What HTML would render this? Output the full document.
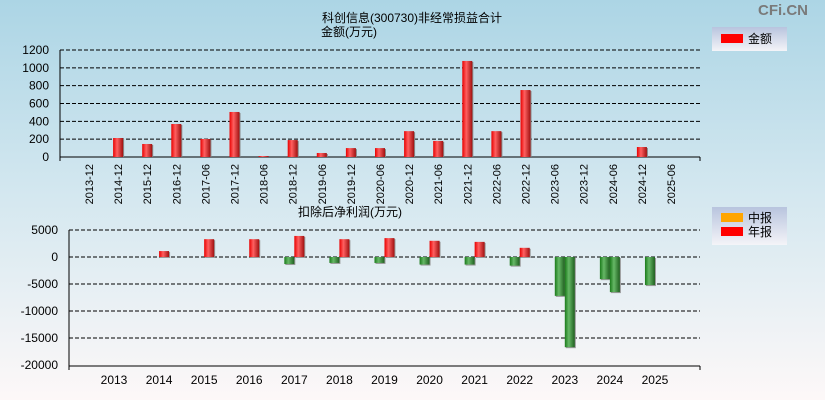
<!DOCTYPE html>
<html><head><meta charset="utf-8"><style>
html,body{margin:0;padding:0;width:825px;height:400px;overflow:hidden}
svg{display:block;font-family:"Liberation Sans","Noto Sans CJK SC",sans-serif}
</style></head><body>
<svg id="c" width="825" height="400" xmlns="http://www.w3.org/2000/svg">
<defs>
<linearGradient id="bg" x1="0" y1="0" x2="0" y2="1"><stop offset="0" stop-color="#acd5e5"/><stop offset="0.5" stop-color="#d5e8f0"/><stop offset="1" stop-color="#fdf8f8"/></linearGradient>
<linearGradient id="red" x1="0" y1="0" x2="1" y2="0"><stop offset="0" stop-color="#e80000"/><stop offset="0.4" stop-color="#ff6060"/><stop offset="1" stop-color="#a01010"/></linearGradient>
<linearGradient id="grn" x1="0" y1="0" x2="1" y2="0"><stop offset="0" stop-color="#1a7a1a"/><stop offset="0.4" stop-color="#66b866"/><stop offset="1" stop-color="#1f5f1f"/></linearGradient>
<linearGradient id="leg" x1="0" y1="0" x2="0" y2="1"><stop offset="0" stop-color="#b8c4de"/><stop offset="1" stop-color="#f4f4f8"/></linearGradient>
</defs>
<rect width="825" height="400" fill="url(#bg)"/>
<text x="808" y="15" font-size="15" font-weight="bold" fill="#7a7a7a" text-anchor="end">CFi.CN</text>
<text x="412" y="22" font-size="12" text-anchor="middle">科创信息(300730)非经常损益合计</text>
<text x="349" y="36" font-size="12" text-anchor="middle">金额(万元)</text>
<text x="350" y="216" font-size="12" text-anchor="middle">扣除后净利润(万元)</text>
<g>
<rect x="712" y="27" width="75" height="24" fill="url(#leg)"/>
<rect x="721" y="34" width="22" height="9" fill="#f00"/>
<text x="748" y="43" font-size="12">金额</text>
</g>
<g>
<rect x="712" y="207" width="75" height="38" fill="url(#leg)"/>
<rect x="721" y="213" width="22" height="9" fill="#ffa500"/>
<text x="748" y="222" font-size="12">中报</text>
<rect x="721" y="227" width="22" height="9" fill="#f00"/>
<text x="748" y="236" font-size="12">年报</text>
</g>
<g id="top"></g><g id="bot"></g>
</svg>
<script>
const topCats=["2013-12","2014-12","2015-12","2016-12","2017-06","2017-12","2018-06","2018-12","2019-06","2019-12","2020-06","2020-12","2021-06","2021-12","2022-06","2022-12","2023-06","2023-12","2024-06","2024-12","2025-06"];
const topVals=[0,213,146,370,202,505,11,190,45,100,100,290,180,1077,290,751,0,0,0,112,0];
const topTicks=[0,200,400,600,800,1000,1200];
const years=["2013","2014","2015","2016","2017","2018","2019","2020","2021","2022","2023","2024","2025"];
const midVals=[null,null,null,null,-1300,-1100,-1100,-1400,-1400,-1600,-7200,-4100,-5200];
const annVals=[null,1100,3300,3300,3900,3300,3500,3000,2800,1700,-16700,-6500,null];
const botTicks=[5000,0,-5000,-10000,-15000,-20000];
const NS="http://www.w3.org/2000/svg";
function mk(p,t,a){const e=document.createElementNS(NS,t);for(const k in a)e.setAttribute(k,a[k]);p.appendChild(e);return e;}
const T=document.getElementById('top');
const ty=v=>157-v*(107/1200), tx=i=>89+i*29.1;
topTicks.forEach(v=>{
 const g=mk(T,'line',{x1:60,x2:700,y1:ty(v),y2:ty(v),stroke:'#000','stroke-dasharray':v===0?'':'4,2'});
 
 
 const t=mk(T,'text',{x:49,y:ty(v)+4,'font-size':12,'text-anchor':'end'});t.textContent=v;
 
 
});
mk(T,'line',{x1:60,x2:60,y1:50,y2:161,stroke:'#000'});
mk(T,'line',{x1:700,x2:700,y1:157,y2:161,stroke:'#000'});
topCats.forEach((c,i)=>{
 const x=tx(i),v=topVals[i];
 if(v>0){
 mk(T,'rect',{x:x-4,y:ty(v)+1,width:10,height:ty(0)-ty(v)-1,fill:'#888'});
 const b=mk(T,'rect',{x:x-5,y:ty(v),width:10,height:ty(0)-ty(v),fill:'url(#red)'});
 
 }
 const t=mk(T,'text',{x:0,y:0,'font-size':11,'text-anchor':'end',transform:`translate(${x+4},164) rotate(-90)`});t.textContent=c;
 
 
});
const B=document.getElementById('bot');
const by=v=>257-v*(27/5000), bx=i=>114+i*45.08;
botTicks.forEach(v=>{
 if(v!==-20000){
 const g=mk(B,'line',{x1:69,x2:700,y1:by(v),y2:by(v),stroke:'#000','stroke-dasharray':'4,2'});
 
 }
 const t=mk(B,'text',{x:58,y:by(v)+4,'font-size':12,'text-anchor':'end'});t.textContent=v;
 
 
});
mk(B,'line',{x1:69,x2:69,y1:230,y2:370,stroke:'#000'});
mk(B,'line',{x1:69,x2:700,y1:366,y2:366,stroke:'#000'});
mk(B,'line',{x1:700,x2:700,y1:366,y2:370,stroke:'#000'});
function bar(x,v,name){
 const y0=by(0),y1=by(v);
 mk(B,'rect',{x:x+1,y:Math.min(y0,y1)+1,width:10,height:Math.abs(y1-y0),fill:'#999'});
 const b=mk(B,'rect',{x:x,y:Math.min(y0,y1),width:10,height:Math.abs(y1-y0),fill:v>=0?'url(#red)':'url(#grn)'});
 
 
}
years.forEach((yr,i)=>{
 const x=bx(i);
 if(midVals[i]!=null)bar(x-10,midVals[i],'bar-mid-'+yr);
 if(annVals[i]!=null)bar(x,annVals[i],'bar-annual-'+yr);
 const t=mk(B,'text',{x:x,y:384,'font-size':12,'text-anchor':'middle'});t.textContent=yr;
 
 
});
</script>
</body></html>
